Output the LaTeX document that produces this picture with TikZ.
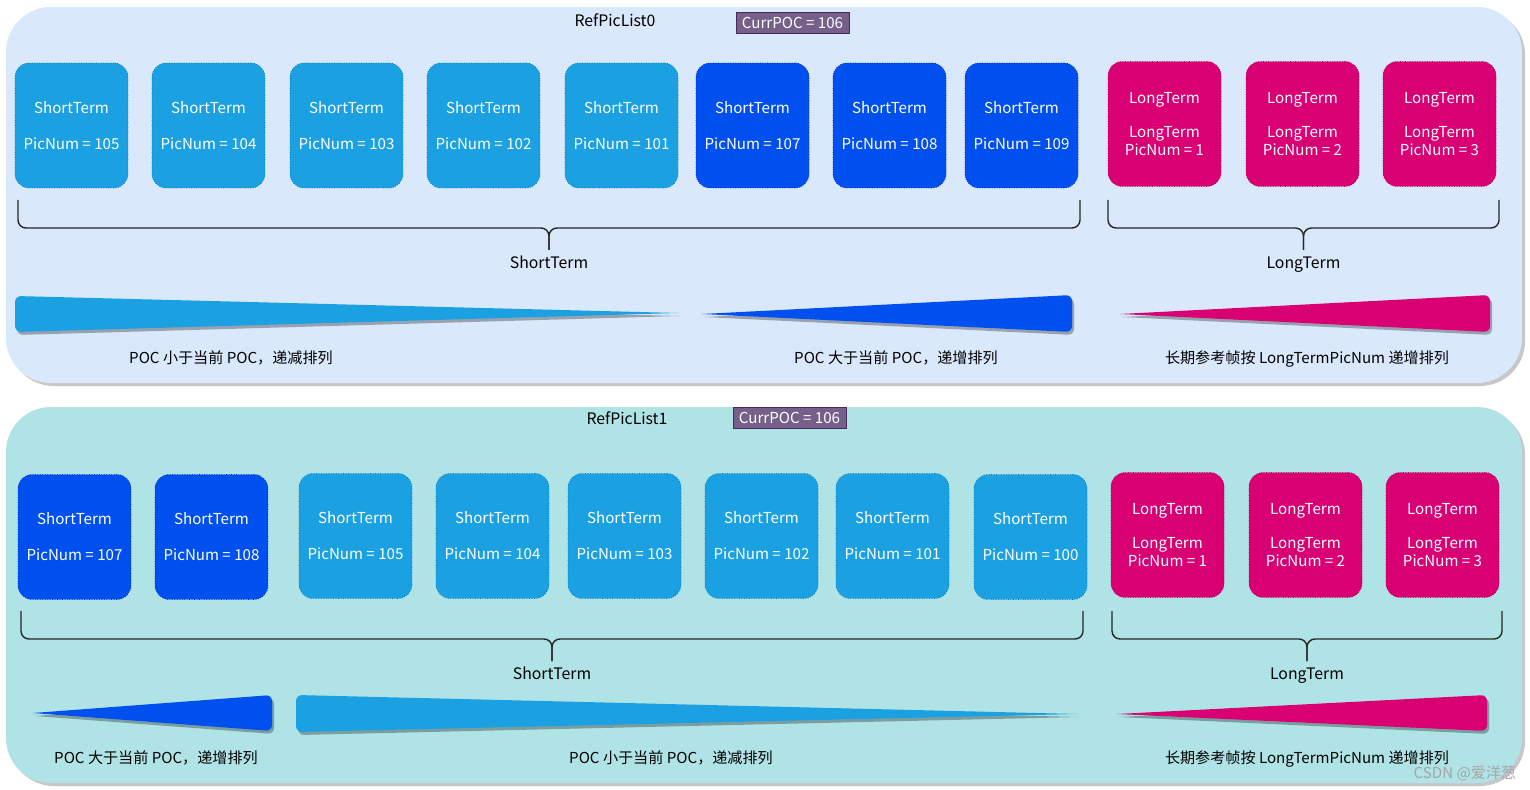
\documentclass[tikz,border=0pt]{standalone}
\usepackage{fontspec}
\setmainfont{Noto Sans CJK SC}
\definecolor{panelA}{HTML}{DAE8FC}
\definecolor{panelB}{HTML}{B0E3E6}
\definecolor{lblue}{HTML}{1BA1E2}
\definecolor{lblueline}{HTML}{006EAF}
\definecolor{dblue}{HTML}{0050EF}
\definecolor{dblueline}{HTML}{001DBC}
\definecolor{magen}{HTML}{D80073}
\definecolor{magenline}{HTML}{A50040}
\definecolor{purp}{HTML}{76608A}
\definecolor{purpline}{HTML}{432D57}
\tikzset{
	frame/.style={fill=#1, draw=#1line, densely dotted, rounded corners=0.28cm,
		minimum width=2.26cm, minimum height=2.5cm, text=white, align=center,
		font=\fontsize{8.6}{10.5}\selectfont},
	curr/.style={fill=purp, draw=purpline, text=white, minimum width=2.26cm,
		minimum height=0.42cm, inner sep=0pt, font=\fontsize{8.6}{10}\selectfont},
	lbl/.style={font=\fontsize{9}{10}\selectfont, text height=1.6ex, text depth=0.5ex},
	note/.style={font=\fontsize{8.6}{10}\selectfont, text height=1.6ex, text depth=0.5ex},
	brc/.style={thick, black!85, rounded corners=0.16cm},
}
\newcommand\taper[6]{%
	\fill[black, opacity=0.3, shift={(2,3)}] (#2,#3) [rounded corners=0.12cm] -- (#4,#5) -- (#4,#6) [sharp corners] -- cycle;
	\fill[#1] (#2,#3) [rounded corners=0.12cm] -- (#4,#5) -- (#4,#6) [sharp corners] -- cycle;}
\newcommand\curly[4]{%
	\draw[brc] (#1,#3) -- (#1,#3+28) -- ({(#1+#2)/2},#3+28) -- ({(#1+#2)/2},#3+#4);
	\draw[brc] (#2,#3) -- (#2,#3+28) -- ({(#1+#2)/2},#3+28) -- ({(#1+#2)/2},#3+#4);}
\begin{document}
\begin{tikzpicture}[x=0.02cm, y=-0.02cm]
	\useasboundingbox (0,0) rectangle (1530,790);
	% panels
	\fill[black, opacity=0.22, rounded corners=0.9cm] (9,10) rectangle (1525,386);
	\fill[panelA, rounded corners=0.9cm] (6,7) rectangle (1522,383);
	\fill[black, opacity=0.22, rounded corners=0.9cm] (9,410) rectangle (1525,786);
	\fill[panelB, rounded corners=0.9cm] (6,407) rectangle (1522,783);
	% RefPicList0
	\node[lbl] (T0) at (615,21) {RefPicList0};
	\node[curr] (C0) at (792.5,22.5) {CurrPOC = 106};
	\node[frame=lblue] (A1) at (71.5,125.5) {ShortTerm\\[10pt]PicNum = 105};
	\node[frame=lblue] (A2) at (208.5,125.5) {ShortTerm\\[10pt]PicNum = 104};
	\node[frame=lblue] (A3) at (346.5,125.5) {ShortTerm\\[10pt]PicNum = 103};
	\node[frame=lblue] (A4) at (483.5,125.5) {ShortTerm\\[10pt]PicNum = 102};
	\node[frame=lblue] (A5) at (621.5,125.5) {ShortTerm\\[10pt]PicNum = 101};
	\node[frame=dblue] (A6) at (752.5,125.5) {ShortTerm\\[10pt]PicNum = 107};
	\node[frame=dblue] (A7) at (889.5,125.5) {ShortTerm\\[10pt]PicNum = 108};
	\node[frame=dblue] (A8) at (1021.5,125.5) {ShortTerm\\[10pt]PicNum = 109};
	\node[frame=magen] (AL1) at (1164.5,124) {LongTerm\\[9pt]LongTerm\\PicNum = 1};
	\node[frame=magen] (AL2) at (1302.5,124) {LongTerm\\[9pt]LongTerm\\PicNum = 2};
	\node[frame=magen] (AL3) at (1439.5,124) {LongTerm\\[9pt]LongTerm\\PicNum = 3};
	\curly{18}{1080}{200}{50}
	\curly{1108}{1499}{200}{50}
	\node[lbl] (AS) at (549,263) {ShortTerm};
	\node[lbl] (AL) at (1303.5,263) {LongTerm};
	\taper{lblue}{678}{313}{15}{296}{332}
	\taper{dblue}{702}{314}{1072}{295}{332}
	\taper{magen}{1120}{314}{1490}{295}{332}
	\node[note] (N1) at (231,358) {POC 小于当前 POC，递减排列};
	\node[note] (N2) at (896,358) {POC 大于当前 POC，递增排列};
	\node[note] (N3) at (1307,358) {长期参考帧按 LongTermPicNum 递增排列};
	% RefPicList1
	\node[lbl] (T1) at (627,419) {RefPicList1};
	\node[curr] (C1) at (789.5,417.5) {CurrPOC = 106};
	\node[frame=dblue] (B1) at (74.5,537) {ShortTerm\\[10pt]PicNum = 107};
	\node[frame=dblue] (B2) at (211.5,537) {ShortTerm\\[10pt]PicNum = 108};
	\node[frame=lblue] (B3) at (355.5,536) {ShortTerm\\[10pt]PicNum = 105};
	\node[frame=lblue] (B4) at (492.5,536) {ShortTerm\\[10pt]PicNum = 104};
	\node[frame=lblue] (B5) at (624.5,536) {ShortTerm\\[10pt]PicNum = 103};
	\node[frame=lblue] (B6) at (761.5,536) {ShortTerm\\[10pt]PicNum = 102};
	\node[frame=lblue] (B7) at (892.5,536) {ShortTerm\\[10pt]PicNum = 101};
	\node[frame=lblue] (B8) at (1030.5,537) {ShortTerm\\[10pt]PicNum = 100};
	\node[frame=magen] (BL1) at (1167.5,535) {LongTerm\\[9pt]LongTerm\\PicNum = 1};
	\node[frame=magen] (BL2) at (1305.5,535) {LongTerm\\[9pt]LongTerm\\PicNum = 2};
	\node[frame=magen] (BL3) at (1442.5,535) {LongTerm\\[9pt]LongTerm\\PicNum = 3};
	\curly{21}{1083}{611}{50}
	\curly{1112}{1502}{611}{50}
	\node[lbl] (BS) at (552,674) {ShortTerm};
	\node[lbl] (BL) at (1307,674) {LongTerm};
	\taper{dblue}{33}{713}{272}{695}{731}
	\taper{lblue}{1078}{714}{296}{695}{732}
	\taper{magen}{1117}{714}{1487}{695}{731}
	\node[note] (M1) at (156,758) {POC 大于当前 POC，递增排列};
	\node[note] (M2) at (671,758) {POC 小于当前 POC，递减排列};
	\node[note] (M3) at (1307,758) {长期参考帧按 LongTermPicNum 递增排列};
	\node[note, black!35] (W) at (1465,773) {CSDN @爱洋葱};
\end{tikzpicture}
\end{document}
